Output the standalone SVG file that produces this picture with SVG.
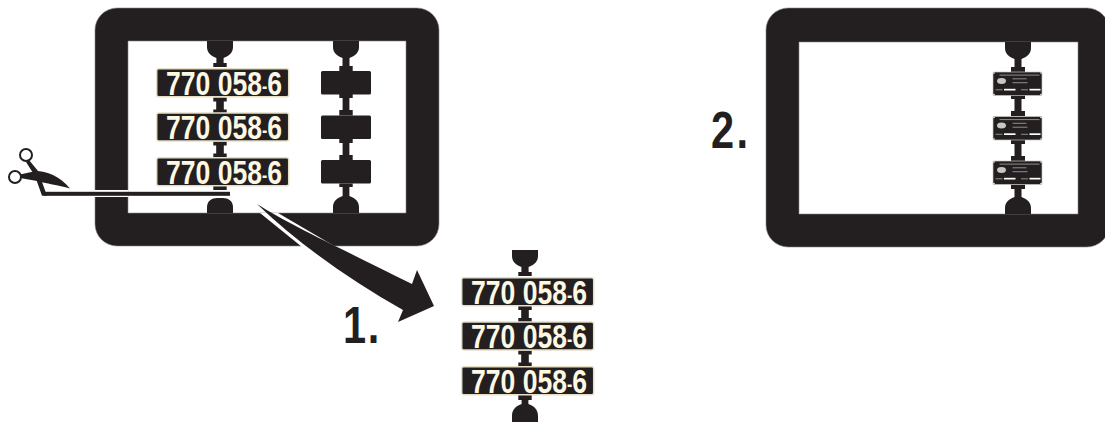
<svg xmlns="http://www.w3.org/2000/svg" width="1105" height="424" viewBox="0 0 1105 424">
<style>
.k{fill:#231f20}
.frame{fill:#231f20;fill-rule:evenodd;stroke:#8a8889;stroke-width:.6}
.plate{fill:#231f20;stroke:#e6dfc6;stroke-width:1.500}
.num{font-family:"Liberation Sans",sans-serif;font-weight:700;font-size:33.500px;fill:#fdf8e4}
.step{font-family:"Liberation Sans",sans-serif;font-weight:700;font-size:52px;fill:#231f20}
.g{fill:#8f8d8b}
.w{fill:#fff}
</style>
<defs>
<path id="bowl" class="k" d="M-13,0H13V6C13,11 10,14.500 3.600,17V22H6.700V26H-6.700V22H-3.600V17C-10,14.500 -13,11 -13,6Z"/>
<path id="link" class="k" d="M-6.700,0H6.700V4H3.800V12H6.700V16H-6.700V12H-3.800V4H-6.700Z"/>
<g id="tag">
<rect class="k" x="-24.500" y="0" width="49" height="23.500" rx="1" stroke="#c9c6bc" stroke-width=".7"/>
<rect class="g" x="-18" y="2.600" width="40" height="1"/>
<rect class="g" x="-5" y="6.300" width="14" height="1"/>
<rect class="g" x="-5" y="10.200" width="15" height="1"/>
<ellipse cx="-16" cy="9" rx="4.500" ry="3" fill="#c8c6c2"/>
<rect class="g" x="-22" y="17.300" width="7" height="1"/>
<rect class="w" x="-13.500" y="16.800" width="11.500" height="1.700"/>
<rect class="g" x="3.500" y="17.300" width="7" height="1"/>
<rect class="w" x="12" y="16.800" width="11" height="1.700"/>
<circle class="w" cx="-23.500" cy="1" r=".8"/><circle class="w" cx="23.500" cy="1" r=".8"/><circle class="w" cx="-23.500" cy="22.500" r=".8"/><circle class="w" cx="23.500" cy="22.500" r=".8"/>
</g>
</defs>

<g id="frame-1">
<path class="frame" d="M117,8H417A22,22 0 0 1 439,30V224A22,22 0 0 1 417,246H117A22,22 0 0 1 95,224V30A22,22 0 0 1 117,8ZM128,41V213H406V41Z"/>
<rect class="w" x="94" y="190" width="34.500" height="7"/>
</g>

<g id="left-column">
<use href="#bowl" x="220" y="41"/>
<use href="#link" x="220" y="97.500"/>
<use href="#link" x="220" y="141.500"/>
<rect class="k" x="213.300" y="186" width="13.400" height="4"/>
<path class="k" d="M207,213V207C207,201 212,198 217,198H223C228,198 233,201 233,207V213Z"/>
<rect class="plate" x="156.700" y="68.700" width="132" height="28" rx="2"/>
<rect class="plate" x="156.700" y="113" width="132" height="28" rx="2"/>
<rect class="plate" x="156.700" y="157.700" width="132" height="28" rx="2"/>
<text class="num" x="166" y="94.500" textLength="116" lengthAdjust="spacingAndGlyphs">770 058<tspan font-size="20" dy="-2">-</tspan><tspan dy="2">6</tspan></text>
<text class="num" x="166" y="139" textLength="116" lengthAdjust="spacingAndGlyphs">770 058<tspan font-size="20" dy="-2">-</tspan><tspan dy="2">6</tspan></text>
<text class="num" x="166" y="183.500" textLength="116" lengthAdjust="spacingAndGlyphs">770 058<tspan font-size="20" dy="-2">-</tspan><tspan dy="2">6</tspan></text>
</g>

<g id="right-column">
<path class="k" d="M333,41H359V47C359,52 356,55.500 349.500,58V66H352.700V71H339.300V66H342.500V58C336,55.500 333,52 333,47Z"/>
<rect class="k" x="321" y="71" width="50" height="23.500" rx="1.500"/>
<rect class="k" x="321" y="115.500" width="50" height="23.500" rx="1.500"/>
<rect class="k" x="321" y="160" width="50" height="23.500" rx="1.500"/>
<path class="k" d="M339.300,94H352.700V98H349.400V110H352.700V115.500H339.300V110H342.600V98H339.300Z"/>
<path class="k" d="M339.300,139H352.700V143H349.400V155H352.700V160H339.300V155H342.600V143H339.300Z"/>
<path class="k" d="M333,213V207C333,202 336,198.500 342.600,196V187H339.300V183.500H352.700V187H349.400V196C356,198.500 359,202 359,207V213Z"/>
</g>

<g id="frame-2">
<path class="frame" d="M788,8H1087A22,22 0 0 1 1109,30V225A22,22 0 0 1 1087,247H788A22,22 0 0 1 766,225V30A22,22 0 0 1 788,8ZM799,42V214H1078V42Z"/>
</g>

<g id="tag-column">
<path class="k" d="M1005,42H1031V48C1031,53 1028,56.500 1021.500,59V67H1025V72H1011V67H1014.500V59C1008,56.500 1005,53 1005,48Z"/>
<path class="k" d="M1011,95H1025V99H1021.500V111H1025V116H1011V111H1014.500V99H1011Z"/>
<path class="k" d="M1011,140H1025V144H1021.500V156H1025V161H1011V156H1014.500V144H1011Z"/>
<path class="k" d="M1005,214V208C1005,203 1008,199.500 1014.500,197V189H1011V184.500H1025V189H1021.500V197C1028,199.500 1031,203 1031,208V214Z"/>
<use href="#tag" x="1017.500" y="72"/>
<use href="#tag" x="1017.500" y="116.500"/>
<use href="#tag" x="1017.500" y="161"/>
</g>

<g id="cut-out">
<use href="#bowl" x="525" y="250"/>
<use href="#link" x="525" y="306"/>
<use href="#link" x="525" y="350.500"/>
<path class="k" d="M518.300,395H531.700V400H528.400V404C535,406.500 538,410 538,416V422H512V416C512,410 515,406.500 521.600,404V400H518.300Z"/>
<rect class="plate" x="461.700" y="277.700" width="132" height="28" rx="2"/>
<rect class="plate" x="461.700" y="322" width="132" height="28" rx="2"/>
<rect class="plate" x="461.700" y="366.700" width="132" height="28" rx="2"/>
<text class="num" x="471" y="303.500" textLength="116" lengthAdjust="spacingAndGlyphs">770 058<tspan font-size="20" dy="-2">-</tspan><tspan dy="2">6</tspan></text>
<text class="num" x="471" y="348" textLength="116" lengthAdjust="spacingAndGlyphs">770 058<tspan font-size="20" dy="-2">-</tspan><tspan dy="2">6</tspan></text>
<text class="num" x="471" y="392.500" textLength="116" lengthAdjust="spacingAndGlyphs">770 058<tspan font-size="20" dy="-2">-</tspan><tspan dy="2">6</tspan></text>
</g>

<g id="scissors">
<rect class="k" x="44" y="191.800" width="186" height="4"/>
<circle cx="26" cy="155" r="6" fill="none" stroke="#231f20" stroke-width="2"/>
<circle cx="15" cy="177" r="6" fill="none" stroke="#231f20" stroke-width="2"/>
<path class="k" d="M29,160L38,171L47,195.800H42L35,176L26,162Z"/>
<path class="k" d="M20,174.500L36,171C46,171 60,176 70,188.500C58,185 46,183.500 37,181L20,178Z"/>
</g>

<g id="connectors">
<path class="w" d="M260,213L278,213L336,247H302Z"/>
<path class="k" d="M257,204C290,225 340,248 412,284L417,270L434,306L398,322L403,310C350,280 300,245 257,204Z"/>
</g>

<g id="labels">
<text class="step" transform="translate(343,343) scale(.8,1)">1<tspan x="31">.</tspan></text>
<text class="step" transform="translate(711,148) scale(.8,1)">2<tspan x="32">.</tspan></text>
</g>
</svg>
